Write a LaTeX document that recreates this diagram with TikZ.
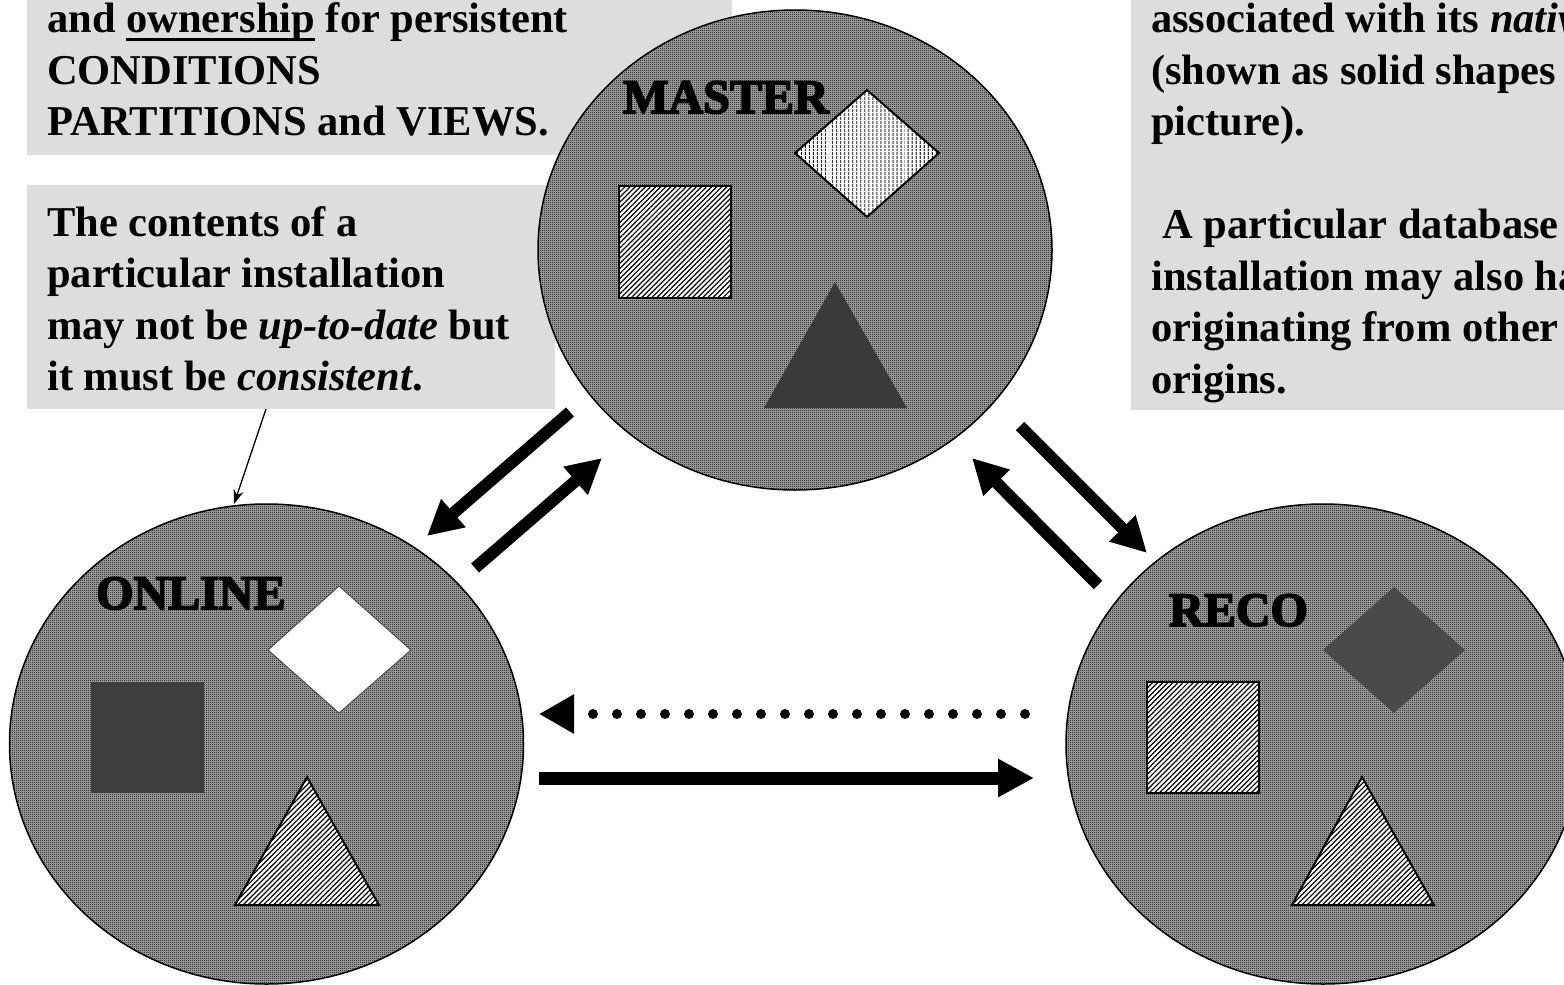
\documentclass[tikz,border=0pt]{standalone}
\usepackage{fontspec}
\setmainfont{Liberation Serif}
\newfontfamily\lblfont{Liberation Serif}[BoldFeatures={FakeBold=3.5}]
\usetikzlibrary{shapes.geometric,arrows.meta,patterns,patterns.meta}

% one-pixel checkerboard used for the database sites
\pgfdeclarepatternformonly{finechk}{\pgfqpoint{0pt}{0pt}}{\pgfqpoint{2pt}{2pt}}{\pgfqpoint{2pt}{2pt}}{%
  \pgfpathrectangle{\pgfqpoint{0pt}{0pt}}{\pgfqpoint{1pt}{1pt}}%
  \pgfpathrectangle{\pgfqpoint{1pt}{1pt}}{\pgfqpoint{1pt}{1pt}}%
  \pgfusepath{fill}}

\definecolor{notegray}{HTML}{DDDDDD}
\definecolor{chklight}{HTML}{ABABAB}
\definecolor{solidA}{HTML}{3A3A3A}
\definecolor{solidB}{HTML}{3E3E3E}
\definecolor{solidC}{HTML}{4A4A4A}

% thick rule under a word
\newcommand\undl[1]{\setbox0\hbox{#1}\rlap{\rule[-8.5pt]{\wd0}{2.7pt}}\box0\relax}

\tikzset{
  note/.style={fill=notegray, draw=none},
  txt/.style={anchor=base west, inner sep=0pt, font=\fontsize{42.5}{52}\selectfont\bfseries},
  lbl/.style={anchor=base west, inner sep=0pt, font=\lblfont\fontsize{48}{56}\selectfont\bfseries},
  site/.style={ellipse, draw=black, line width=1.5pt, minimum width=514pt, minimum height=480pt,
    inner sep=0pt, preaction={fill=chklight}, pattern=finechk, pattern color=black},
  hatch/.style={draw=black, line width=2pt, preaction={fill=white},
    pattern={Lines[angle=45,distance=3.6pt,line width=1.2pt]}},
  vhatch/.style={draw=black, line width=2pt, preaction={fill=white},
    pattern={Lines[angle=90,distance=4pt,line width=1.2pt]}},
  flow/.style={line width=12pt, -{Triangle[length=35pt,width=35pt]}},
  hflow/.style={line width=13pt, -{Triangle[length=36pt,width=36pt]}},
  dflow/.style={line width=10pt, line cap=round, dash pattern=on 0pt off 24pt,
    -{Triangle[length=35pt,width=37pt]}},
  pointer/.style={line width=1.3pt, -{Stealth[length=14pt,width=10pt]}}
}

\begin{document}
\begin{tikzpicture}[x=1pt,y=-1pt]
\useasboundingbox (0,0) rectangle (1564,985);
\clip (0,0) rectangle (1564,985);

% explanatory notes
\fill[note] (27,-40) rectangle (732,155);
\fill[note] (27,185) rectangle (555,409);
\fill[note] (1131,-40) rectangle (1620,410);

\node[txt] (a1) at (47,32) {and \undl{ownership} for persistent};
\node[txt] (a2) at (47,84) {CONDITIONS};
\node[txt] (a3) at (47,135) {PARTITIONS and VIEWS.};

\node[txt] (b1) at (47,236) {The contents of a};
\node[txt] (b2) at (47,287) {particular installation};
\node[txt] (b3) at (47,339) {may not be \textit{up-to-date} but};
\node[txt] (b4) at (47,390) {it must be \textit{consistent}.};

\node[txt] (c1) at (1151,32) {associated with its \textit{native}};
\node[txt] (c2) at (1151,84) {(shown as solid shapes};
\node[txt] (c3) at (1151,135) {picture).};
\node[txt] (c4) at (1162,238) {A particular database};
\node[txt] (c5) at (1151,290) {installation may also have};
\node[txt] (c6) at (1151,341) {originating from other};
\node[txt] (c7) at (1151,393) {origins.};

% database sites
\node[site] (master) at (795,250) {};
\node[site] (online) at (266.5,744) {};
\node[site] (reco) at (1323,744) {};

% MASTER contents
\draw[hatch] (619,186) rectangle (731,298);
\draw[vhatch] (867,90) -- (939,153) -- (867,217) -- (795,153) -- cycle;
\fill[solidA] (835,282) -- (907,408) -- (764,408) -- cycle;
\node[lbl] (mlabel) at (623,113) {MASTER};

% ONLINE contents
\fill[solidB] (91,682) rectangle (204,793);
\draw[fill=white, draw=black!70, line width=1pt] (339,586) -- (411,650) -- (339,713) -- (268,650) -- cycle;
\draw[hatch] (307,777) -- (379,905) -- (235,905) -- cycle;
\node[lbl] (olabel) at (96,609) {ONLINE};

% RECO contents
\draw[hatch] (1147,682) rectangle (1259,793);
\fill[solidC] (1394,587) -- (1465,650) -- (1394,713) -- (1323,650) -- cycle;
\draw[hatch] (1362,777) -- (1434,905) -- (1292,905) -- cycle;
\node[lbl] (rlabel) at (1169,626) {RECO};

% replication flows
\coordinate (mo1) at (570,412);  \coordinate (mo2) at (427,536);
\coordinate (om1) at (475,568);  \coordinate (om2) at (602,458);
\coordinate (mr1) at (1020,426); \coordinate (mr2) at (1147,553);
\coordinate (rm1) at (1098,585); \coordinate (rm2) at (972,458);
\coordinate (ro1) at (1025,714); \coordinate (ro2) at (539,714);
\coordinate (or1) at (539,778);  \coordinate (or2) at (1034,778);
\coordinate (nt1) at (266,409);  \coordinate (nt2) at (234,504);

\draw[flow] (mo1) -- (mo2);
\draw[flow] (om1) -- (om2);
\draw[flow] (mr1) -- (mr2);
\draw[flow] (rm1) -- (rm2);
\draw[dflow] (ro1) -- (ro2);
\draw[hflow] (or1) -- (or2);
\draw[pointer] (nt1) -- (nt2);
\end{tikzpicture}
\end{document}
